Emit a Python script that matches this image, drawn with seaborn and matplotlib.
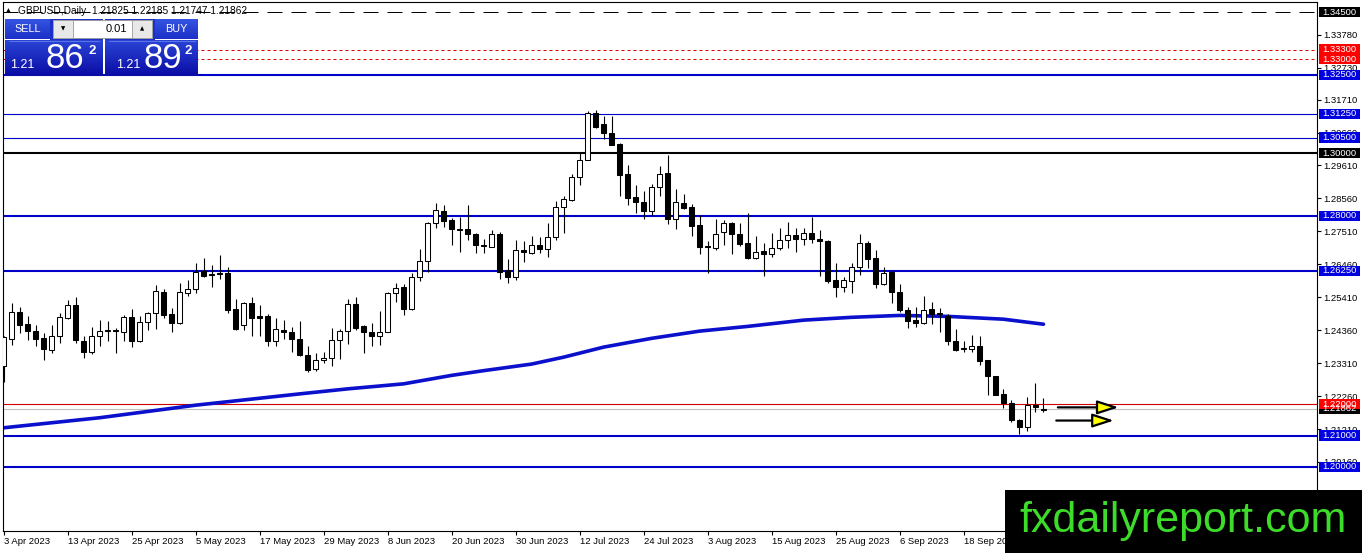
import numpy as np
import matplotlib
matplotlib.use("Agg")
import matplotlib.pyplot as plt
import matplotlib.transforms as mtransforms
from matplotlib.patches import Rectangle
import seaborn as sns

# ---------------- data ----------------
opens = [1.2321,1.2408,1.2493,1.2456,1.2434,1.2411,1.2373,1.2417,1.2476,1.2517,
         1.2402,1.2368,1.2417,1.2437,1.2437,1.2430,1.2479,1.2400,1.2463,1.2490,
         1.2557,1.2487,1.2458,1.2556,1.2566,1.2626,1.2615,1.2619,1.2619,1.2503,
         1.2451,1.2523,1.2481,1.2482,1.2400,1.2436,1.2431,1.2409,1.2358,1.2312,
         1.2340,1.2347,1.2405,1.2433,1.2519,1.2448,1.2430,1.2416,1.2430,1.2554,
         1.2573,1.2503,1.2605,1.2656,1.2776,1.2816,1.2787,1.2760,1.2760,1.2742,
         1.2707,1.2702,1.2744,1.2628,1.2605,1.2690,1.2683,1.2707,1.2695,1.2733,
         1.2829,1.2852,1.2925,1.2979,1.3128,1.3094,1.3065,1.3028,1.2933,1.2859,
         1.2843,1.2816,1.2893,1.2936,1.2789,1.2840,1.2827,1.2770,1.2705,1.2699,
         1.2749,1.2776,1.2742,1.2714,1.2667,1.2688,1.2678,1.2697,1.2723,1.2739,
         1.2728,1.2747,1.2725,1.2720,1.2596,1.2573,1.2594,1.2636,1.2713,1.2665,
         1.2582,1.2622,1.2557,1.2501,1.2467,1.2458,1.2503,1.2490,1.2482,1.2402,
         1.2380,1.2375,1.2386,1.2340,1.2291,1.2233,1.2205,1.2151,1.2127,1.2196,
         1.21825]
highs = [1.2418,1.2524,1.2511,1.2482,1.2453,1.2427,1.2453,1.2492,1.2532,1.2543,
         1.2416,1.2446,1.2469,1.2464,1.2443,1.2485,1.2503,1.2480,1.2495,1.2580,
         1.2567,1.2506,1.2586,1.2596,1.2649,1.2665,1.2644,1.2675,1.2636,1.2535,
         1.2527,1.2541,1.2517,1.2488,1.2476,1.2467,1.2445,1.2466,1.2384,1.2363,
         1.2365,1.2443,1.2439,1.2536,1.2541,1.2453,1.2458,1.2498,1.2558,1.2586,
         1.2583,1.2619,1.2694,1.2781,1.2841,1.2834,1.2792,1.2797,1.2834,1.2746,
         1.2728,1.2755,1.2748,1.2662,1.2723,1.2720,1.2736,1.2733,1.2776,1.2847,
         1.2865,1.2933,1.3000,1.3136,1.3139,1.3120,1.3120,1.3032,1.2961,1.2900,
         1.2879,1.2903,1.2959,1.2993,1.2887,1.2869,1.2837,1.2802,1.2721,1.2790,
         1.2787,1.2781,1.2776,1.2811,1.2736,1.2713,1.2747,1.2763,1.2781,1.2763,
         1.2762,1.2797,1.2755,1.2723,1.2651,1.2606,1.2649,1.2742,1.2721,1.2691,
         1.2636,1.2626,1.2583,1.2511,1.2509,1.2545,1.2525,1.2506,1.2488,1.2439,
         1.2400,1.2421,1.2418,1.2342,1.2291,1.2247,1.2212,1.2154,1.2222,1.2268,
         1.22185]
lows = [1.2270,1.2390,1.2427,1.2406,1.2384,1.2340,1.2363,1.2395,1.2473,1.2395,
        1.2347,1.2361,1.2386,1.2400,1.2363,1.2403,1.2381,1.2398,1.2437,1.2440,
        1.2476,1.2429,1.2456,1.2546,1.2554,1.2606,1.2573,1.2598,1.2490,1.2437,
        1.2437,1.2416,1.2416,1.2384,1.2386,1.2408,1.2368,1.2353,1.2302,1.2305,
        1.2332,1.2321,1.2344,1.2393,1.2437,1.2363,1.2387,1.2390,1.2429,1.2527,
        1.2483,1.2499,1.2594,1.2622,1.2763,1.2765,1.2707,1.2686,1.2723,1.2681,
        1.2683,1.2700,1.2599,1.2586,1.2596,1.2654,1.2678,1.2683,1.2668,1.2723,
        1.2746,1.2847,1.2900,1.2977,1.3081,1.3046,1.3025,1.2864,1.2836,1.2811,
        1.2790,1.2802,1.2864,1.2774,1.2759,1.2821,1.2737,1.2678,1.2617,1.2691,
        1.2707,1.2679,1.2704,1.2663,1.2662,1.2610,1.2670,1.2693,1.2697,1.2684,
        1.2707,1.2714,1.2610,1.2586,1.2543,1.2559,1.2556,1.2612,1.2633,1.2572,
        1.2580,1.2522,1.2495,1.2443,1.2446,1.2455,1.2455,1.2429,1.2390,1.2371,
        1.2365,1.2365,1.2326,1.2231,1.2228,1.2189,1.2144,1.2106,1.2114,1.2175,
        1.21747]
closes = [1.2414,1.2493,1.2454,1.2432,1.2409,1.2376,1.2417,1.2479,1.2517,1.2406,
          1.2368,1.2417,1.2434,1.2433,1.2433,1.2479,1.2400,1.2463,1.2490,1.2560,
          1.2485,1.2458,1.2557,1.2566,1.2622,1.2610,1.2611,1.2614,1.2501,1.2439,
          1.2523,1.2476,1.2476,1.2400,1.2439,1.2430,1.2407,1.2356,1.2310,1.2341,
          1.2347,1.2405,1.2433,1.2519,1.2443,1.2429,1.2416,1.2430,1.2554,1.2572,
          1.2503,1.2605,1.2656,1.2776,1.2818,1.2784,1.2757,1.2756,1.2741,1.2707,
          1.2703,1.2742,1.2622,1.2605,1.2691,1.2684,1.2706,1.2695,1.2733,1.2829,
          1.2853,1.2925,1.2979,1.3128,1.3083,1.3065,1.3027,1.2932,1.2857,1.2845,
          1.2816,1.2893,1.2935,1.2790,1.2843,1.2826,1.2768,1.2702,1.2700,1.2741,
          1.2776,1.2741,1.2711,1.2667,1.2686,1.2678,1.2697,1.2723,1.2739,1.2725,
          1.2747,1.2725,1.2719,1.2594,1.2573,1.2596,1.2636,1.2713,1.2664,1.2582,
          1.2619,1.2557,1.2501,1.2464,1.2458,1.2501,1.2488,1.2486,1.2400,1.2374,
          1.2375,1.2385,1.2337,1.2289,1.2231,1.2205,1.2149,1.2127,1.2196,1.2191,
          1.21862]

ma_bar = [0, 12, 24, 37, 43, 50, 56, 60, 66, 70, 75, 81, 87, 93, 100, 106, 112, 118, 125, 130]
ma_val = [1.2125, 1.2157, 1.2197, 1.2233, 1.2249, 1.2265, 1.2292, 1.2307, 1.2328, 1.2350,
          1.2382, 1.2410, 1.2433, 1.2448, 1.2468, 1.2477, 1.2483, 1.2480, 1.2471, 1.2455]

date_labels = ["3 Apr 2023", "13 Apr 2023", "25 Apr 2023", "5 May 2023", "17 May 2023",
               "29 May 2023", "8 Jun 2023", "20 Jun 2023", "30 Jun 2023", "12 Jul 2023",
               "24 Jul 2023", "3 Aug 2023", "15 Aug 2023", "25 Aug 2023", "6 Sep 2023",
               "18 Sep 2023", "28 Sep 2023"]
date_bars = [0, 8, 16, 24, 32, 40, 48, 56, 64, 72, 80, 88, 96, 104, 112, 120, 128]

price_ticks = [1.33780, 1.32730, 1.31710, 1.30660, 1.29610, 1.28560, 1.27510, 1.26460,
               1.25410, 1.24360, 1.23310, 1.22260, 1.21210, 1.20160]

level_prices = [1.34500, 1.33300, 1.33000, 1.32500, 1.31250, 1.30500, 1.30000,
                1.28000, 1.26250, 1.21862, 1.22000, 1.21000, 1.20000]
level_kinds = ["dash", "red_dot", "red_dot", "blue2", "blue1", "blue1", "black2",
               "blue2", "blue2", "bid", "red1", "blue2", "blue2"]

arrow_prices = [1.2190, 1.2148]
arrow_from = [131.8, 131.6]
arrow_to = [139.4, 138.8]

header = "GBPUSD,Daily  1.21825 1.22185 1.21747 1.21862"

# ---------------- style ----------------
sns.set_theme(style="white")
plt.rcParams['font.family'] = ['Liberation Sans', 'DejaVu Sans']

W, H = 1362, 553
fig = plt.figure(figsize=(W / 100, H / 100), dpi=100)
fig.patch.set_facecolor("white")
ax = fig.add_axes([3 / W, 22 / H, 1314 / W, 529 / H])
ax.set_facecolor("white")

n = len(opens)
idx = np.arange(n)
o = np.array(opens); c = np.array(closes); hi = np.array(highs); lo = np.array(lows)

# horizontal levels
styles = {
    "dash": dict(color="black", lw=0.72, ls=(0, (15, 9))),
    "red_dot": dict(color="#e00000", lw=0.72, ls=(0, (3, 3))),
    "blue2": dict(color="#0000c8", lw=1.5, ls="-"),
    "blue1": dict(color="#0000c8", lw=0.8, ls="-"),
    "black2": dict(color="black", lw=1.5, ls="-"),
    "bid": dict(color="#c0c0c0", lw=0.8, ls="-"),
    "red1": dict(color="#d00000", lw=0.8, ls="-"),
}
for p, k in zip(level_prices, level_kinds):
    ax.axhline(p, zorder=1, **styles[k])

# moving average
sns.lineplot(x=ma_bar, y=ma_val, ax=ax, color="#0a10cc", lw=2.6, zorder=2)

# candles
ax.vlines(idx, lo, hi, color="black", lw=0.8, zorder=3)
bottoms = np.minimum(o, c)
heights = np.maximum(np.abs(c - o), 0.00018)
face = ["white" if cc > oo else "black" for oo, cc in zip(o, c)]
ax.bar(idx, heights, bottom=bottoms, width=0.6, color=face, edgecolor="black",
       linewidth=0.75, zorder=4)

# arrows
for yp, x0, x1 in zip(arrow_prices, arrow_from, arrow_to):
    ax.annotate("", xy=(x1, yp), xytext=(x0, yp),
                arrowprops=dict(arrowstyle="-|>,head_length=13,head_width=4.2",
                                mutation_scale=1, fc="#ffff00", ec="black", lw=1.6,
                                shrinkA=0, shrinkB=0), zorder=6)

ax.set_xlim(-0.1, 164.2)
ax.set_ylim(1.17960, 1.34819)

# axes
for s in ax.spines.values():
    s.set_color("black"); s.set_linewidth(0.8); s.set_visible(True)
ax.yaxis.tick_right()
ax.set_yticks(price_ticks)
ax.set_yticklabels([f"{t:.5f}" for t in price_ticks])
ax.set_xticks(date_bars)
ax.set_xticklabels(date_labels)
ax.tick_params(axis="y", which="both", right=True, left=False, length=3, width=0.8,
               color="black", labelsize=6.8, labelcolor="black", pad=1.5, direction="out")
ax.tick_params(axis="x", which="both", bottom=True, length=3, width=0.8, color="black",
               labelsize=6.8, labelcolor="black", pad=1.5, direction="out")
for lab in ax.get_xticklabels():
    lab.set_horizontalalignment("left")
ax.grid(False)

# right-scale level boxes
trans = mtransforms.blended_transform_factory(ax.transAxes, ax.transData)
box_colors = {"dash": "black", "red_dot": "#ff0000", "blue2": "#0000e0", "blue1": "#0000e0",
              "black2": "black", "bid": "black", "red1": "#ff0000"}
px_y = (1.34819 - 1.17960) / 529.0
bx0 = 1.0015
bw = 41 / 1314
for p, k in zip(level_prices, level_kinds):
    ax.add_patch(Rectangle((bx0, p - 5.2 * px_y), bw, 10.4 * px_y, transform=trans,
                           facecolor=box_colors[k], edgecolor="none", clip_on=False, zorder=7))
    ax.text(bx0 + bw / 2, p, f"{p:.5f}", transform=trans, color="white", fontsize=6.8,
            ha="center", va="center", clip_on=False, zorder=8)

# header text
fig.text(8 / W, 1 - 10.5 / H, "\u25b2", fontsize=4.5, color="black", ha="center", va="center",
         family=["DejaVu Sans"])
fig.text(18 / W, 1 - 10.5 / H, header, fontsize=7.3, color="black", ha="left", va="center")

# one-click trading panel
pax = fig.add_axes([5 / W, 1 - 76 / H, 193 / W, 57 / H])
pax.set_xlim(5, 198); pax.set_ylim(76, 19); pax.axis("off")


def grad(c1, c2, nrow=40):
    c1 = np.array(matplotlib.colors.to_rgb(c1)); c2 = np.array(matplotlib.colors.to_rgb(c2))
    t = np.linspace(0, 1, nrow)[:, None]
    return (c1 * (1 - t) + c2 * t)[:, None, :]


for (x0, x1) in [(5, 103), (105, 198)]:
    pax.imshow(grad("#2a44d6", "#0a0ca4"), extent=(x0, x1, 76, 40), aspect="auto", zorder=1)
for (x0, x1) in [(5, 50), (155, 198)]:
    pax.imshow(grad("#3656e2", "#1c30c8"), extent=(x0, x1, 39.5, 19), aspect="auto", zorder=1)
pax.add_patch(Rectangle((50, 19), 53, 21, facecolor="#1c30c8", edgecolor="none", zorder=1))
pax.add_patch(Rectangle((105, 19), 50, 21, facecolor="#1c30c8", edgecolor="none", zorder=1))
pax.plot([9, 99], [40.5, 40.5], color="#6a7ee8", lw=0.6, zorder=2)
pax.plot([109, 195], [40.5, 40.5], color="#6a7ee8", lw=0.6, zorder=2)
pax.set_xlim(5, 198); pax.set_ylim(76, 19)
# lot control
pax.add_patch(Rectangle((53, 19.5), 99, 18.5, facecolor="white", edgecolor="#9a9a9a", lw=0.6, zorder=3))
pax.add_patch(Rectangle((53, 19.5), 20, 18.5, facecolor="#e8e8e8", edgecolor="#9a9a9a", lw=0.6, zorder=4))
pax.add_patch(Rectangle((132, 19.5), 20, 18.5, facecolor="#e8e8e8", edgecolor="#9a9a9a", lw=0.6, zorder=4))
pax.text(63, 29, "\u25bc", fontsize=4, ha="center", va="center", color="black", zorder=5,
         family=["DejaVu Sans"])
pax.text(142, 29, "\u25b2", fontsize=4, ha="center", va="center", color="black", zorder=5,
         family=["DejaVu Sans"])
pax.text(127, 29, "0.01", fontsize=8, ha="right", va="center", color="black", zorder=5)
pax.text(27.5, 29.5, "SELL", fontsize=7.8, ha="center", va="center", color="white", zorder=5)
pax.text(176.5, 29.5, "BUY", fontsize=7.8, ha="center", va="center", color="white", zorder=5)
for xs, xb, xsup, big in [(22, 65, 92.5, "86"), (128, 163, 188.5, "89")]:
    pax.text(xs, 65, "1.21", fontsize=9, ha="center", va="center", color="white", zorder=5)
    pax.text(xb, 58.5, big, fontsize=25, ha="center", va="center", color="white", zorder=5)
    pax.text(xsup, 50.5, "2", fontsize=9.5, ha="center", va="center", color="white",
             fontweight="bold", zorder=5)

# watermark
fig.add_artist(Rectangle((1005 / W, 0), 1 - 1005 / W, 63 / H, transform=fig.transFigure,
                         facecolor="black", edgecolor="none", zorder=20))
fig.text(1183 / W, 1 - 521 / H, "fxdailyreport.com", fontsize=31, color="#3ddc2a",
         ha="center", va="center", zorder=21)

fig.savefig("out.png", dpi=100, facecolor="white")
